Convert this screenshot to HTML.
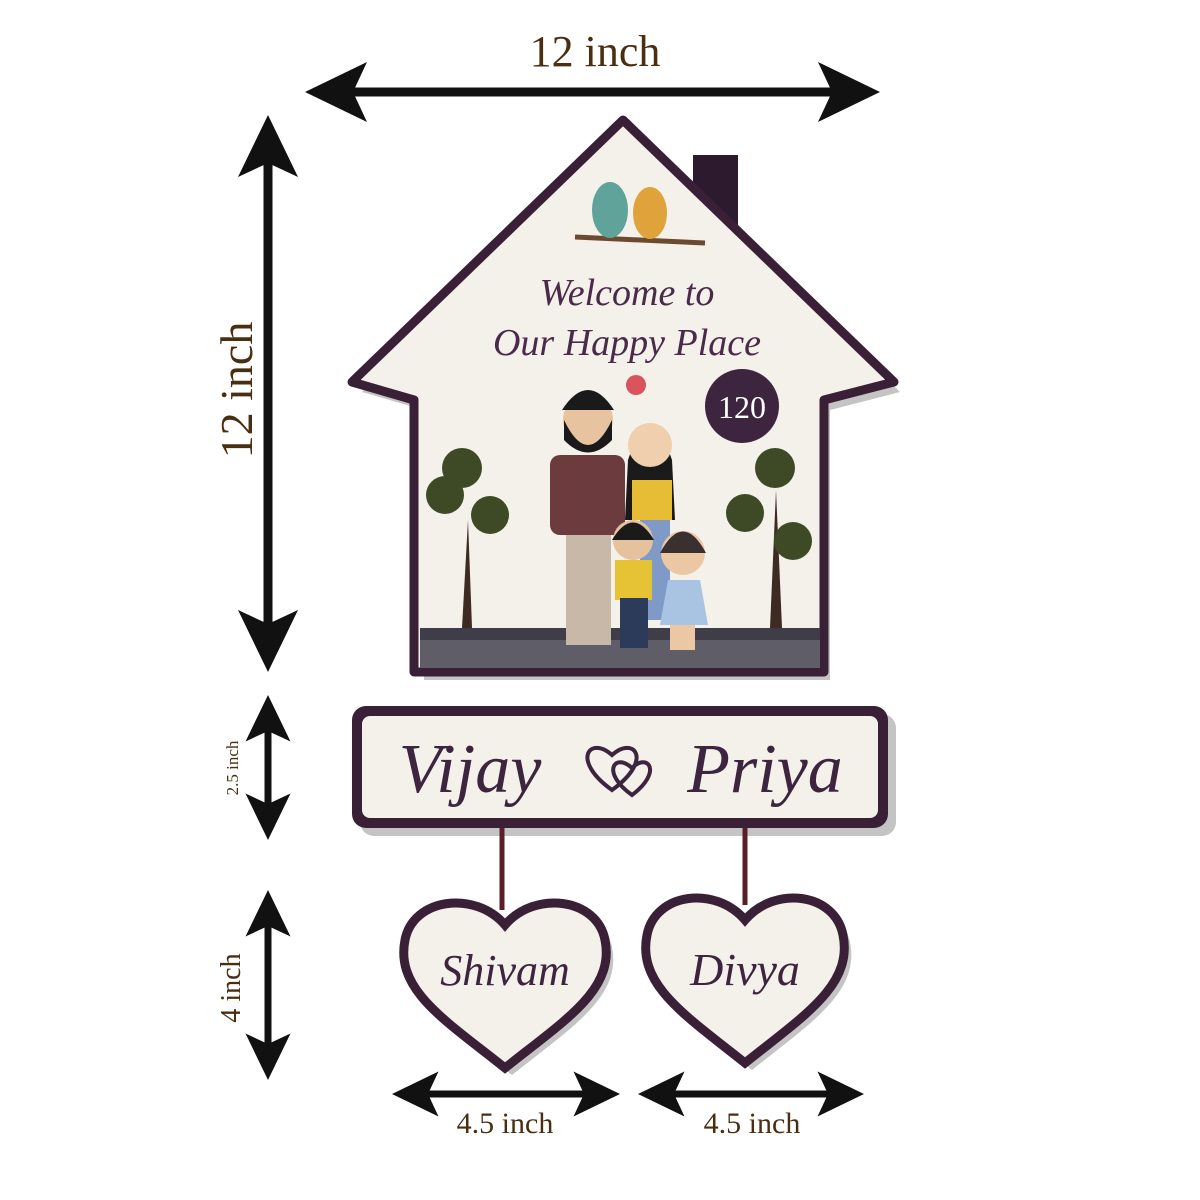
<!DOCTYPE html><html><head><style>html,body{margin:0;padding:0;background:#fff}svg{display:block}</style></head><body>
<svg width="1200" height="1200" viewBox="0 0 1200 1200" xmlns="http://www.w3.org/2000/svg">
<defs>
<g id="ah"><polygon points="0,0 -62,-30 -48,0 -62,30" fill="#111"/></g>
</defs>
<!-- top arrow -->
<line x1="340" y1="92" x2="845" y2="92" stroke="#111" stroke-width="9"/>
<use href="#ah" transform="translate(880,92)"/>
<use href="#ah" transform="translate(305,92) rotate(180)"/>
<text x="595" y="66" font-family="Liberation Serif,serif" font-size="44" fill="#4a2e12" text-anchor="middle">12 inch</text>
<!-- left big arrow -->
<line x1="268" y1="150" x2="268" y2="640" stroke="#111" stroke-width="9"/>
<use href="#ah" transform="translate(268,672) rotate(90)"/>
<use href="#ah" transform="translate(268,115) rotate(-90)"/>
<text transform="translate(252,390) rotate(-90)" font-family="Liberation Serif,serif" font-size="46" fill="#4a2e12" text-anchor="middle">12 inch</text>
<!-- 2.5 arrow -->
<line x1="268" y1="720" x2="268" y2="815" stroke="#111" stroke-width="7"/>
<g transform="translate(268,840) rotate(90) scale(0.75)"><use href="#ah"/></g>
<g transform="translate(268,695) rotate(-90) scale(0.75)"><use href="#ah"/></g>
<text transform="translate(238,768) rotate(-90)" font-family="Liberation Serif,serif" font-size="17" fill="#4a2e12" text-anchor="middle">2.5 inch</text>
<!-- 4 arrow -->
<line x1="268" y1="915" x2="268" y2="1055" stroke="#111" stroke-width="7"/>
<g transform="translate(268,1080) rotate(90) scale(0.75)"><use href="#ah"/></g>
<g transform="translate(268,890) rotate(-90) scale(0.75)"><use href="#ah"/></g>
<text transform="translate(240,988) rotate(-90)" font-family="Liberation Serif,serif" font-size="28" fill="#4a2e12" text-anchor="middle">4 inch</text>
<!-- bottom arrows -->
<line x1="415" y1="1094" x2="595" y2="1094" stroke="#111" stroke-width="7"/>
<g transform="translate(620,1094) scale(0.75)"><use href="#ah"/></g>
<g transform="translate(392,1094) rotate(180) scale(0.75)"><use href="#ah"/></g>
<line x1="662" y1="1094" x2="840" y2="1094" stroke="#111" stroke-width="7"/>
<g transform="translate(864,1094) scale(0.75)"><use href="#ah"/></g>
<g transform="translate(638,1094) rotate(180) scale(0.75)"><use href="#ah"/></g>
<text x="505" y="1133" font-family="Liberation Serif,serif" font-size="30" fill="#4a2e12" text-anchor="middle">4.5 inch</text>
<text x="752" y="1133" font-family="Liberation Serif,serif" font-size="30" fill="#4a2e12" text-anchor="middle">4.5 inch</text>

<!-- house shadow -->
<polygon points="630,130 362,392 424,410 424,680 830,680 830,410 900,392" fill="#555" opacity="0.35"/>
<rect x="693" y="155" width="45" height="75" fill="#2e1a2e"/>
<polygon points="623,120 352,382 414,400 414,672 824,672 824,400 894,382" fill="#f4f0ea" stroke="#3a2036" stroke-width="9" stroke-linejoin="round"/>
<rect x="420" y="628" width="400" height="40" fill="#5f5e68"/>
<rect x="420" y="628" width="400" height="12" fill="#3f3d48"/>
<!-- trees -->
<path d="M462 628 L468 520 L472 628Z" fill="#3d2b22"/>
<circle cx="462" cy="468" r="20" fill="#3e4a26"/><circle cx="445" cy="495" r="19" fill="#3e4a26"/><circle cx="490" cy="515" r="19" fill="#3e4a26"/>
<path d="M770 628 L776 490 L782 628Z" fill="#3d2b22"/>
<circle cx="775" cy="468" r="20" fill="#3e4a26"/><circle cx="745" cy="513" r="19" fill="#3e4a26"/><circle cx="793" cy="541" r="19" fill="#3e4a26"/>
<!-- birds -->
<line x1="575" y1="237" x2="705" y2="243" stroke="#6b4a30" stroke-width="5"/>
<ellipse cx="610" cy="210" rx="18" ry="28" fill="#5fa39a"/><ellipse cx="650" cy="213" rx="17" ry="26" fill="#e0a23a"/>
<!-- text -->
<text x="627" y="305" font-family="Liberation Serif,serif" font-style="italic" font-size="38" fill="#4a2a4a" text-anchor="middle">Welcome to</text>
<text x="627" y="355" font-family="Liberation Serif,serif" font-style="italic" font-size="38" fill="#4a2a4a" text-anchor="middle">Our Happy Place</text>
<circle cx="636" cy="385" r="10" fill="#d9545c"/>
<circle cx="742" cy="406" r="37" fill="#3d2540"/>
<text x="742" y="418" font-family="Liberation Serif,serif" font-size="32" fill="#fff" text-anchor="middle">120</text>
<!-- people -->
<circle cx="588" cy="420" r="25" fill="#e8c3a0"/><path d="M564 420 Q588 470 612 420 L612 440 Q588 465 564 440Z" fill="#1a1a1a"/><path d="M562 410 Q588 370 614 410Z" fill="#1a1a1a"/>
<rect x="550" y="455" width="75" height="80" rx="10" fill="#6b3b3e"/>
<rect x="566" y="535" width="45" height="110" fill="#c8b8a8"/>
<path d="M628 460 Q650 395 672 460 L675 520 L625 520Z" fill="#1a1a1a"/><circle cx="650" cy="445" r="22" fill="#f0cfae"/>
<rect x="632" y="480" width="40" height="40" fill="#e8bd36"/><rect x="640" y="520" width="30" height="100" fill="#7f9ac7"/>
<circle cx="633" cy="540" r="20" fill="#e6c19e"/><path d="M612 540 Q633 505 654 540Z" fill="#1a1a1a"/>
<rect x="615" y="560" width="37" height="40" fill="#e6c235"/><rect x="620" y="598" width="28" height="50" fill="#2d3b5a"/>
<circle cx="683" cy="553" r="22" fill="#ecc7a4"/><path d="M660 553 Q683 510 706 553Z" fill="#3a3030"/>
<path d="M668 580 L700 580 L708 625 L660 625Z" fill="#a9c3e3"/><rect x="670" y="625" width="25" height="25" fill="#ecc7a4"/>

<!-- name plate -->
<rect x="360" y="714" width="536" height="122" rx="14" fill="#555" opacity="0.35"/>
<rect x="352" y="706" width="536" height="122" rx="14" fill="#3a2036"/>
<rect x="362" y="716" width="516" height="102" rx="8" fill="#f4f0ea"/>
<text x="470" y="792" font-family="Liberation Serif,serif" font-style="italic" font-size="70" fill="#3d2540" text-anchor="middle">Vijay</text>
<text x="765" y="792" font-family="Liberation Serif,serif" font-style="italic" font-size="70" fill="#3d2540" text-anchor="middle">Priya</text>
<path d="M612 790 C570 760 590 735 612 755 C634 735 654 760 612 790Z" fill="none" stroke="#3d2540" stroke-width="4"/>
<path d="M632 795 C600 772 615 752 632 768 C648 752 663 772 632 795Z" fill="none" stroke="#3d2540" stroke-width="4"/>
<!-- strings -->
<line x1="502" y1="828" x2="502" y2="910" stroke="#5a1e28" stroke-width="5"/>
<line x1="745" y1="828" x2="745" y2="905" stroke="#5a1e28" stroke-width="5"/>
<!-- hearts -->
<g transform="translate(505,0)">
<path d="M0 1068 C-60 1020 -110 990 -100 940 C-92 898 -30 890 0 925 C30 890 92 898 100 940 C110 990 60 1020 0 1068Z" fill="#555" opacity="0.35" transform="translate(7,7)"/>
<path d="M0 1068 C-60 1020 -110 990 -100 940 C-92 898 -30 890 0 925 C30 890 92 898 100 940 C110 990 60 1020 0 1068Z" fill="#f4f0ea" stroke="#3a2036" stroke-width="9"/>
<text x="0" y="985" font-family="Liberation Serif,serif" font-style="italic" font-size="44" fill="#3d2540" text-anchor="middle">Shivam</text>
</g>
<g transform="translate(745,0)">
<path d="M0 1063 C-60 1015 -108 985 -98 935 C-90 893 -30 885 0 920 C30 885 90 893 98 935 C108 985 60 1015 0 1063Z" fill="#555" opacity="0.35" transform="translate(7,7)"/>
<path d="M0 1063 C-60 1015 -108 985 -98 935 C-90 893 -30 885 0 920 C30 885 90 893 98 935 C108 985 60 1015 0 1063Z" fill="#f4f0ea" stroke="#3a2036" stroke-width="9"/>
<text x="0" y="985" font-family="Liberation Serif,serif" font-style="italic" font-size="46" fill="#3d2540" text-anchor="middle">Divya</text>
</g>
</svg>
</body></html>
